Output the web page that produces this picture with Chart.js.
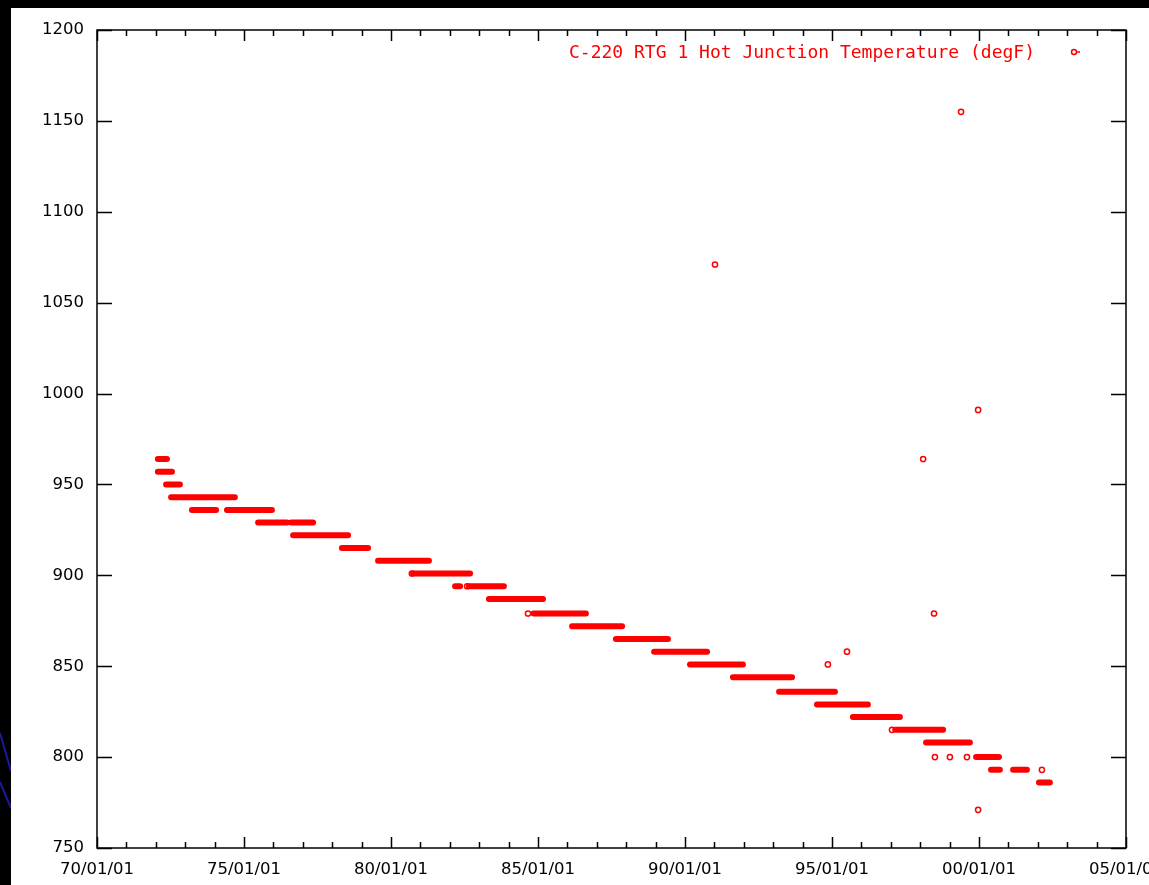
<!DOCTYPE html>
<html>
<head>
<meta charset="utf-8">
<script src="https://cdn.jsdelivr.net/npm/chart.js@4.4.1/dist/chart.umd.min.js"></script>
<style>
  html, body { margin: 0; padding: 0; background: #000; }
  #wrap { width: 1149px; height: 885px; }
</style>
</head>
<body>
<div id="wrap"><canvas id="rtgChart" width="1149" height="885"></canvas></div>
<script>
// runs of readings at one quantized temperature (years, degF)
const runTemps  = [964, 957, 950, 943, 936, 936, 929, 929, 922, 915, 908, 901, 894, 894, 887,
                   879, 872, 865, 858, 851, 844, 836, 829, 822, 815, 808, 800, 793, 793, 786];
const runStarts = [1972.07, 1972.07, 1972.35, 1972.52, 1973.23, 1974.42, 1975.48, 1976.60, 1976.67, 1978.33,
                   1979.56, 1980.75, 1982.18, 1982.65, 1983.33, 1984.85, 1986.16, 1987.65, 1988.95, 1990.17,
                   1991.63, 1993.20, 1994.49, 1995.71, 1997.15, 1998.20, 1999.90, 2000.41, 2001.16, 2002.04];
const runEnds   = [1972.38, 1972.55, 1972.82, 1974.69, 1974.05, 1975.95, 1976.46, 1977.35, 1978.54, 1979.22,
                   1981.29, 1982.69, 1982.35, 1983.84, 1985.17, 1986.63, 1987.86, 1989.42, 1990.75, 1991.97,
                   1993.64, 1995.10, 1996.22, 1997.31, 1998.78, 1999.69, 2000.68, 2000.71, 2001.63, 2002.41];

// single readings
const ptYears = [1980.71, 1982.59, 1984.66, 1997.04, 1991.02, 1999.39, 1999.97, 1998.10,
                 1998.47, 1994.86, 1995.51, 1998.50, 1999.01, 1999.59, 2002.14, 1999.97];
const ptTemps = [901, 894, 879, 815, 1071, 1155, 991, 964,
                 879, 851, 858, 800, 800, 800, 793, 771];

const xTicks = [1970, 1975, 1980, 1985, 1990, 1995, 2000, 2005];
const seriesLabel = 'C-220 RTG 1 Hot Junction Temperature (degF)';

const RED = '#ff0000';
const tickFont = { family: '"DejaVu Sans", sans-serif', size: 16.5 };

// build the line data, with gaps between runs
const runData = [];
runTemps.forEach((t, i) => {
    runData.push({ x: runStarts[i], y: t });
    runData.push({ x: runEnds[i], y: t });
    runData.push({ x: runEnds[i], y: null });
});
const ptData = ptYears.map((x, i) => ({ x: x, y: ptTemps[i] }));

// black slide background, white plot sheet, frame, inward ticks, key
const gnuplotLook = {
    id: 'gnuplotLook',
    beforeDraw(chart) {
        const c = chart.ctx;
        c.save();
        c.fillStyle = '#000';
        c.fillRect(0, 0, chart.width, chart.height);
        c.strokeStyle = '#1a1aa0';
        c.lineWidth = 2;
        c.beginPath();
        c.moveTo(0, 733); c.lineTo(11, 771);
        c.moveTo(0, 782); c.lineTo(11, 808);
        c.stroke();
        c.fillStyle = '#fff';
        c.fillRect(11, 8, chart.width - 11, chart.height - 8);
        c.restore();
    },
    afterDraw(chart) {
        const c = chart.ctx;
        const a = chart.chartArea;
        const xs = chart.scales.x, ys = chart.scales.y;
        c.save();
        c.strokeStyle = '#000';
        c.lineWidth = 1.5;
        c.strokeRect(a.left, a.top, a.right - a.left, a.bottom - a.top);
        c.beginPath();
        // y ticks, both sides
        ys.ticks.forEach(t => {
            const py = Math.round(ys.getPixelForValue(t.value)) + 0.5;
            c.moveTo(a.left, py); c.lineTo(a.left + 15, py);
            c.moveTo(a.right, py); c.lineTo(a.right - 15, py);
        });
        // x ticks, one per year, longer every 5 years
        for (let yr = xs.min; yr <= xs.max; yr++) {
            const px = Math.round(xs.getPixelForValue(yr)) + 0.5;
            const len = (yr % 5 === 0) ? 11 : 6;
            c.moveTo(px, a.bottom); c.lineTo(px, a.bottom - len);
            c.moveTo(px, a.top); c.lineTo(px, a.top + len);
        }
        c.stroke();

        // key
        c.font = '18px "DejaVu Sans Mono", monospace';
        c.fillStyle = RED;
        c.textAlign = 'right';
        c.textBaseline = 'middle';
        c.fillText(seriesLabel, 1035, 53);
        c.strokeStyle = RED;
        c.lineWidth = 1.5;
        c.beginPath();
        c.arc(1074, 52, 2.5, 0, Math.PI * 2);
        c.moveTo(1076.5, 52); c.lineTo(1080, 52);
        c.stroke();
        c.restore();
    }
};

const ctx = document.getElementById('rtgChart').getContext('2d');
const rtgChart = new Chart(ctx, {
    type: 'scatter',
    data: {
        datasets: [{
            label: seriesLabel,
            data: runData,
            showLine: true,
            spanGaps: false,
            borderColor: RED,
            borderWidth: 6,
            borderCapStyle: 'round',
            pointRadius: 0,
            pointHoverRadius: 0
        }, {
            label: seriesLabel + ' (single)',
            data: ptData,
            showLine: false,
            pointStyle: 'circle',
            pointRadius: 2.6,
            pointBorderWidth: 1.5,
            pointBorderColor: RED,
            pointBackgroundColor: '#fff'
        }]
    },
    options: {
        responsive: false,
        animation: false,
        layout: { padding: { left: 0, top: 30, right: 23, bottom: 0 } },
        plugins: {
            legend: { display: false },
            tooltip: { enabled: false }
        },
        scales: {
            x: {
                type: 'linear',
                min: 1970,
                max: 2005,
                afterBuildTicks: s => { s.ticks = xTicks.map(v => ({ value: v })); },
                afterFit: s => { s.height = 37; s.paddingLeft = 0; s.paddingRight = 0; },
                grid: { display: false, drawTicks: false },
                border: { display: false },
                ticks: {
                    padding: 12,
                    maxRotation: 0,
                    autoSkip: false,
                    color: '#000',
                    font: tickFont,
                    callback: v => String(v % 100).padStart(2, '0') + '/01/01'
                }
            },
            y: {
                min: 750,
                max: 1200,
                afterFit: s => { s.width = 97; },
                grid: { display: false, drawTicks: false },
                border: { display: false },
                ticks: {
                    stepSize: 50,
                    padding: 13,
                    color: '#000',
                    font: tickFont,
                    callback: v => String(v)
                }
            }
        }
    },
    plugins: [gnuplotLook]
});
</script>
</body>
</html>
